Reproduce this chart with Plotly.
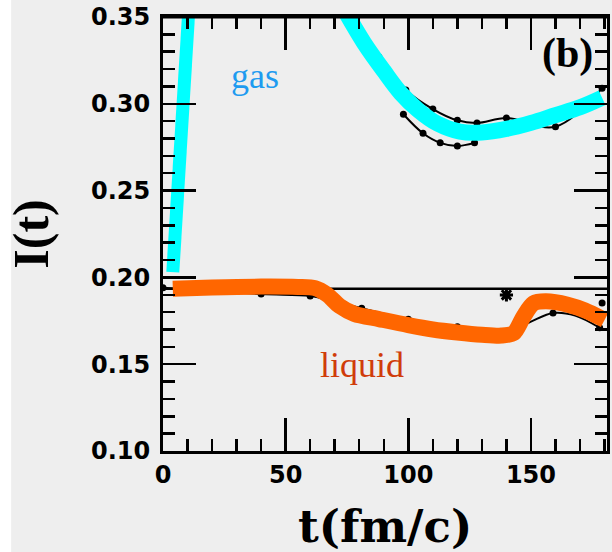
import plotly.graph_objects as go

# ---- data ----
gas_left_t = [4, 7, 11]
gas_left_v = [0.203, 0.275, 0.365]

gas_t = [74, 82, 90, 97, 104, 112, 121, 130, 140, 150, 160, 170, 179]
gas_v = [0.354, 0.335, 0.319, 0.306, 0.2964, 0.2885, 0.284, 0.2835, 0.2855, 0.289, 0.2935, 0.298, 0.3035]

liq_t = [4, 20, 40, 55, 62, 67, 72, 78, 88, 100, 110, 120, 130, 138, 143, 147, 151, 156, 165, 172, 180]
liq_v = [0.1935, 0.1942, 0.1947, 0.1945, 0.1938, 0.190, 0.1835, 0.1790, 0.1760, 0.1725, 0.1700, 0.1683, 0.1670, 0.1665, 0.1680, 0.1775, 0.1850, 0.1862, 0.1843, 0.1810, 0.1755]

gas_data_t = [88, 99, 110, 120, 128, 140, 160, 179]
gas_data_v = [0.327, 0.308, 0.297, 0.2905, 0.289, 0.2918, 0.2868, 0.309]
gas_data2_t = [98, 106, 113, 120, 127]
gas_data2_v = [0.294, 0.283, 0.2775, 0.2757, 0.2775]

liq_line_t = [0, 40, 60, 70, 81, 100, 120, 140, 150, 159, 168, 178]
liq_line_v = [0.194, 0.1904, 0.1893, 0.186, 0.1822, 0.1759, 0.1716, 0.168, 0.1745, 0.1795, 0.178, 0.171]
liq_pts_t = [0, 40, 60, 81, 100, 120, 159, 178, 179]
liq_pts_v = [0.194, 0.1904, 0.1893, 0.1822, 0.1759, 0.1716, 0.1795, 0.171, 0.1853]
star_t = [140]
star_v = [0.1899]

ref_t = [0, 181]
ref_v = [0.1935, 0.1935]

x_ticks = [0, 50, 100, 150]
y_ticks = [0.10, 0.15, 0.20, 0.25, 0.30, 0.35]

fig = go.Figure()

fig.add_trace(go.Scatter(x=ref_t, y=ref_v, mode="lines",
                         line=dict(color="black", width=2.5), hoverinfo="skip"))
fig.add_trace(go.Scatter(x=gas_data_t, y=gas_data_v, mode="lines+markers",
                         line=dict(color="black", width=2, shape="spline"),
                         marker=dict(color="black", size=7)))
fig.add_trace(go.Scatter(x=gas_data2_t, y=gas_data2_v, mode="lines+markers",
                         line=dict(color="black", width=2, shape="spline"),
                         marker=dict(color="black", size=7)))
fig.add_trace(go.Scatter(x=liq_line_t, y=liq_line_v, mode="lines",
                         line=dict(color="black", width=2, shape="spline")))
fig.add_trace(go.Scatter(x=liq_pts_t, y=liq_pts_v, mode="markers",
                         marker=dict(color="black", size=7)))
fig.add_trace(go.Scatter(x=star_t, y=star_v, mode="markers",
                         marker=dict(color="black", size=11, symbol="asterisk",
                                     line=dict(color="black", width=3))))

fig.add_trace(go.Scatter(x=gas_left_t, y=gas_left_v, mode="lines",
                         line=dict(color="#00FFFF", width=13)))
fig.add_trace(go.Scatter(x=gas_t, y=gas_v, mode="lines",
                         line=dict(color="#00FFFF", width=16, shape="spline", smoothing=1)))
fig.add_trace(go.Scatter(x=liq_t, y=liq_v, mode="lines",
                         line=dict(color="#FF6600", width=16, shape="spline", smoothing=0.8)))

tick_font = dict(family="DejaVu Sans", size=24, color="black")
axis_common = dict(
    showgrid=False, zeroline=False, showline=True, linecolor="black", linewidth=3,
    mirror="allticks", ticks="inside", ticklen=33, tickwidth=2.5, tickcolor="black",
    tickfont=tick_font, automargin=False,
)

fig.update_xaxes(range=[0, 181], tickvals=x_ticks, ticktext=["<b>%d</b>" % v for v in x_ticks],
                 minor=dict(dtick=10, tick0=0, ticks="inside", ticklen=12, tickwidth=2.5, tickcolor="black"),
                 **axis_common)
fig.update_yaxes(range=[0.10, 0.35], tickvals=y_ticks, ticktext=["<b>%.2f</b>" % v for v in y_ticks],
                 minor=dict(dtick=0.01, tick0=0.10, ticks="inside", ticklen=12, tickwidth=2.5, tickcolor="black"),
                 ticklabelstandoff=5,
                 **axis_common)

# axis titles
fig.add_annotation(xref="paper", yref="paper", x=0.5, y=-0.175, text="<b>t(fm/c)</b>",
                   showarrow=False, xanchor="center", yanchor="middle",
                   font=dict(family="DejaVu Serif", size=45, color="black"))
fig.add_annotation(xref="paper", yref="paper", x=-0.298, y=0.5, text="<b>I(t)</b>",
                   showarrow=False, xanchor="center", yanchor="middle", textangle=-90,
                   font=dict(family="Liberation Serif", size=50, color="black"))

fig.add_annotation(x=37.5, y=0.316, text="gas", showarrow=False,
                   font=dict(family="Liberation Serif", size=36, color="#1E9BF0"))
fig.add_annotation(x=81, y=0.1495, text="liquid", showarrow=False,
                   font=dict(family="Liberation Serif", size=36, color="#D03C0A"))
fig.add_annotation(x=165, y=0.3287, text="<b>(b)</b>", showarrow=False,
                   font=dict(family="Liberation Serif", size=42, color="black"))

# white strip at the far left of the page
fig.add_shape(type="rect", xref="paper", yref="paper", x0=-0.40, x1=-0.342, y0=-0.3, y1=1.1,
              fillcolor="white", line=dict(width=0), layer="below")
# top frame edge of the plot area
fig.add_shape(type="line", xref="paper", yref="paper", x0=0, x1=1, y0=1, y1=1,
              line=dict(color="black", width=3), layer="above")

fig.update_layout(
    width=612, height=552,
    margin=dict(l=163, r=5, t=17, b=101, autoexpand=False),
    paper_bgcolor="#EEEEEE", plot_bgcolor="#EEEEEE",
    showlegend=False,
)

fig.write_html("out.html", config={"displayModeBar": False, "staticPlot": True},
               post_script="document.body.style.margin='0px';document.body.style.overflow='hidden';")
